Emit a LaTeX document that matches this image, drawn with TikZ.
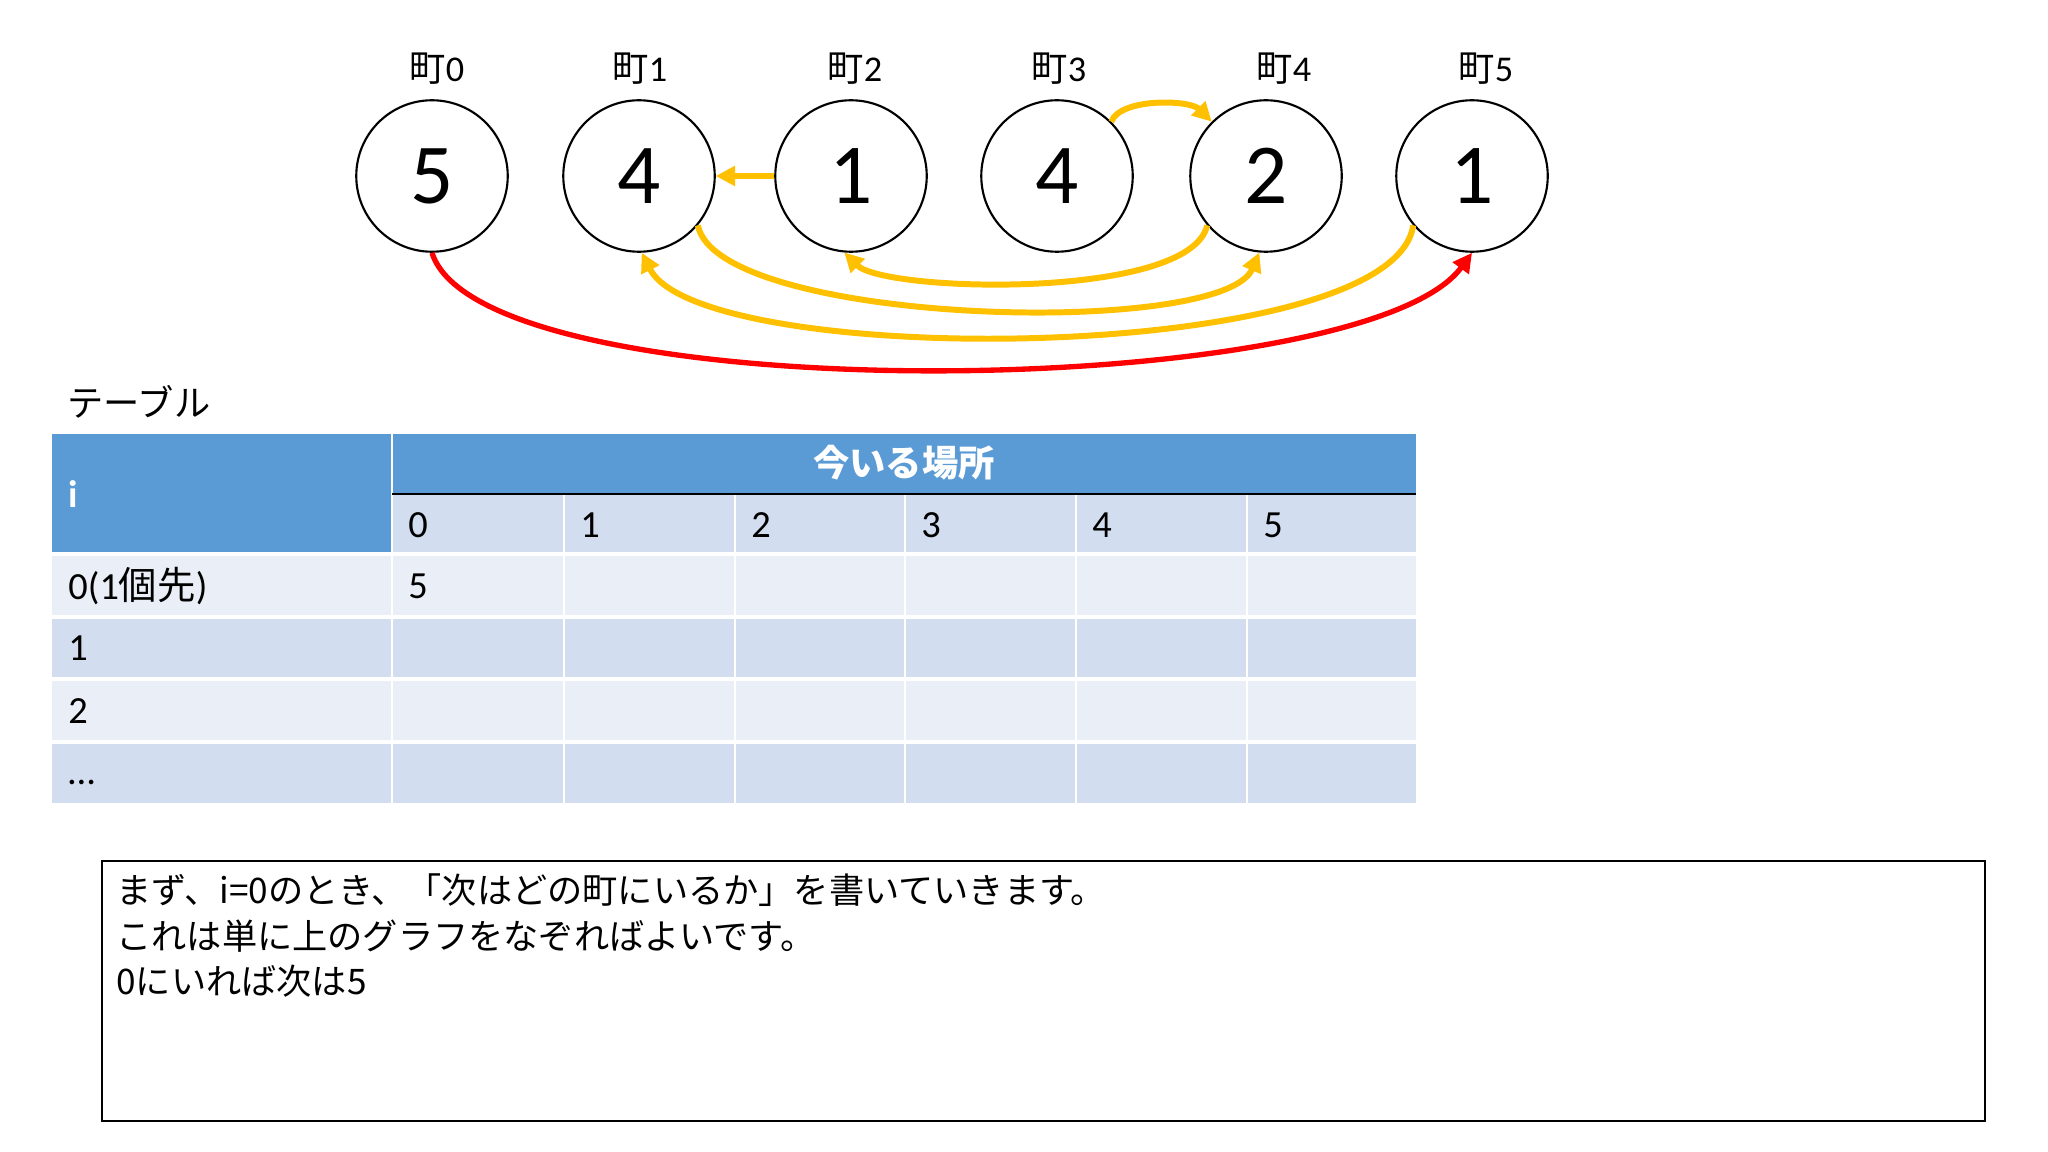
\documentclass[tikz,border=0pt]{standalone}
\usepackage{fontspec}
\setmainfont{Carlito}
\newfontfamily\jp{Noto Sans CJK JP}
\usetikzlibrary{arrows.meta,positioning}

\definecolor{hdrblue}{HTML}{5B9BD5}
\definecolor{rowdark}{HTML}{D2DEEF}
\definecolor{rowlight}{HTML}{EAEFF7}
\definecolor{hopyellow}{HTML}{FFC000}
\definecolor{hopred}{HTML}{FF0000}

\begin{document}
\begin{tikzpicture}[
    x=0.46875pt, y=-0.46875pt,
    town/.style={circle, draw, line width=1pt, minimum size=71pt, inner sep=0pt, font=\fontsize{40}{48}\selectfont},
    townlabel/.style={font=\fontsize{17}{20}\selectfont},
    hop/.style={line width=2.8pt, color=hopyellow, -{Triangle[length=9pt,width=9pt]}},
    firsthop/.style={hop, line width=2.5pt, color=hopred},
    cell/.style={anchor=west, inner sep=0pt, font=\fontsize{18}{21}\selectfont},
    noteline/.style={anchor=base west, inner sep=0pt, font=\jp\fontsize{16.5}{21.5}\selectfont}
]
    \useasboundingbox (0,0) rectangle (2048,1152);

    % towns
    \foreach \x/\lx/\v [count=\i from 0] in {432/437/5, 639/640/4, 851/855/1, 1057/1059/4, 1266/1284/2, 1472/1486/1} {
        \node[town] (c\i) at (\x,176) {\v};
        \node[townlabel] (lab\i) at (\lx,69) {{\jp 町}\i};
    }

    % one hop from each town
    \draw[firsthop] (c0.south) .. controls +(50,160) and +(-110,150) .. (c5.south);
    \draw[hop] (c2.west) -- (c1.east);
    \draw[hop] (c3.45) .. controls +(9,-24) and +(-22,-22) .. (c4.135);
    \draw[hop] (c1.-40) .. controls +(20,100) and +(-37,86) .. (c4.-95);
    \draw[hop] (c4.-140) .. controls +(-17,75) and +(40,40) .. (c2.-95);
    \draw[hop] (c5.-140) .. controls +(-20,140) and +(60,118) .. (c1.-88);

    % table
    \node[anchor=west, inner sep=0pt, font=\jp\fontsize{17}{20}\selectfont] (tbl) at (67,402) {テーブル};
    \fill[hdrblue] (52,434) rectangle (1416,494);
    \fill[hdrblue] (52,494) rectangle (392,554);
    \fill[rowdark] (392,494) rectangle (1416,554);
    \fill[rowlight] (52,554) rectangle (1416,617);
    \fill[rowdark] (52,617) rectangle (1416,679);
    \fill[rowlight] (52,679) rectangle (1416,742);
    \fill[rowdark] (52,742) rectangle (1416,803);
    \draw[white, line width=1.2pt] (392,434) -- (392,803);
    \foreach \c in {564,735,905,1076,1247}
        \draw[white, line width=1pt] (\c,494) -- (\c,803);
    \foreach \r in {554,617,679,742}
        \draw[white, line width=1.5pt] (52,\r) -- (1416,\r);
    \draw[line width=1.2pt] (392,494) -- (1416,494);

    \node[font=\jp\bfseries\fontsize{17}{20}\selectfont, text=white] (hdr) at (904,463) {今いる場所};
    \node[cell, text=white, font=\bfseries\fontsize{18}{21}\selectfont] (ihead) at (68,494) {i};
    \foreach \c [count=\k from 0] in {392,564,735,905,1076,1247}
        \node[cell] (col\k) at (\c+16,525) {\k};
    \node[cell] (row0) at (68,586) {0(1{\jp 個先})};
    \node[cell] (row1) at (68,648) {1};
    \node[cell] (row2) at (68,711) {2};
    \node[cell] (row3) at (68,782) {…};
    \node[cell] (v00) at (408,586) {5};

    % note
    \draw[line width=1pt] (102,861) rectangle (1985,1121);
    \node[noteline] (note1) at (116,903) {まず、i=0のとき、「次はどの町にいるか」を書いていきます。};
    \node[noteline] (note2) at (116,949) {これは単に上のグラフをなぞればよいです。};
    \node[noteline] (note3) at (116,994) {0にいれば次は5};
\end{tikzpicture}
\end{document}
